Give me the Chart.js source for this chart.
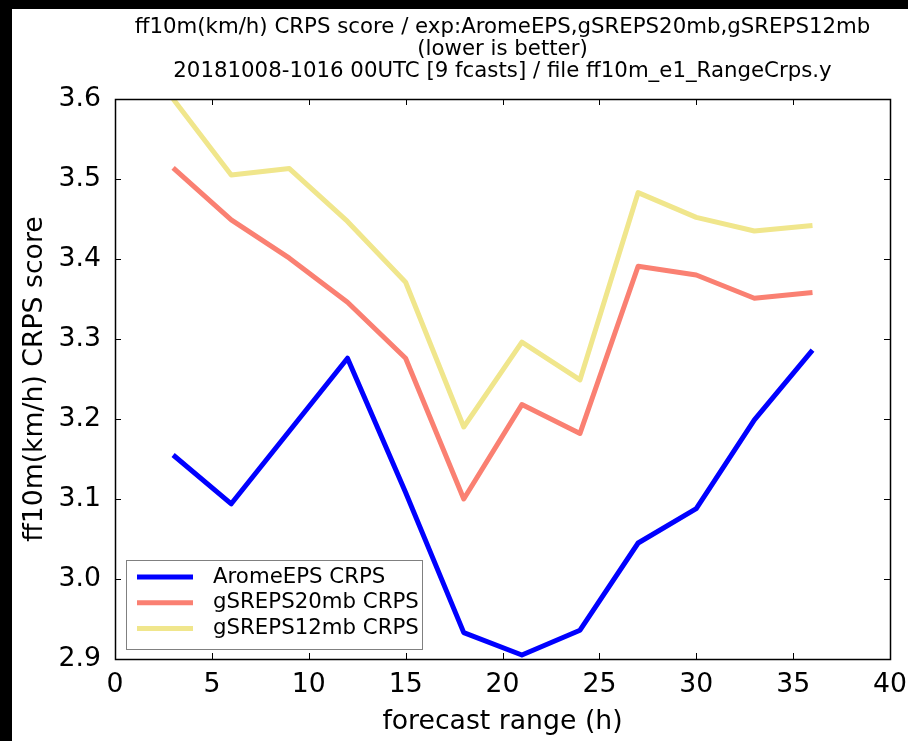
<!DOCTYPE html>
<html>
<head>
<meta charset="utf-8">
<script src="https://cdn.jsdelivr.net/npm/chart.js@4/dist/chart.umd.min.js"></script>
<style>
  html, body { margin: 0; padding: 0; background: #000; width: 908px; height: 741px; overflow: hidden; }
  #wrap { position: absolute; left: 12px; top: 9px; width: 896px; height: 732px; background: #fff; }
  canvas { display: block; }
</style>
</head>
<body>
<div id="wrap"><canvas id="c" width="896" height="732"></canvas></div>
<script>
// Forecast ranges (h) and CRPS scores per experiment
const forecastRange = [3, 6, 9, 12, 15, 18, 21, 24, 27, 30, 33, 36];
const aromeEPS   = [3.155, 3.094, 3.185, 3.276, 3.108, 2.933, 2.905, 2.936, 3.045, 3.088, 3.199, 3.286];
const gSREPS20mb = [3.514, 3.449, 3.401, 3.346, 3.276, 3.100, 3.218, 3.182, 3.391, 3.380, 3.351, 3.358];
const gSREPS12mb = [3.600, 3.505, 3.513, 3.447, 3.371, 3.190, 3.296, 3.249, 3.483, 3.452, 3.435, 3.442];

const seriesNames  = ['AromeEPS CRPS', 'gSREPS20mb CRPS', 'gSREPS12mb CRPS'];
const seriesColors = ['#0000ff', '#fa8072', '#f0e68c'];

const xTickValues = [0, 5, 10, 15, 20, 25, 30, 35, 40];
const yTickValues = [2.9, 3.0, 3.1, 3.2, 3.3, 3.4, 3.5, 3.6];

const titleLines = [
  'ff10m(km/h) CRPS score / exp:AromeEPS,gSREPS20mb,gSREPS12mb',
  '(lower is better)',
  '20181008-1016 00UTC [9 fcasts] / file ff10m_e1_RangeCrps.y'
];
const xAxisTitle = 'forecast range (h)';
const yAxisTitle = 'ff10m(km/h) CRPS score';

const FONT = "'DejaVu Sans', sans-serif";

function toPoints(values) {
  return forecastRange.map((x, i) => ({ x: x, y: values[i] }));
}

const datasets = [aromeEPS, gSREPS20mb, gSREPS12mb].map((vals, i) => ({
  label: seriesNames[i],
  data: toPoints(vals),
  borderColor: seriesColors[i],
  backgroundColor: seriesColors[i],
  borderWidth: 5,
  pointRadius: 0,
  pointHoverRadius: 0,
  tension: 0,
  fill: false,
  clip: 0,
  borderJoinStyle: 'round',
  borderCapStyle: 'butt'
}));

// Multi-line title centred over the plotting area
const titlePlugin = {
  id: 'axesTitle',
  afterDraw(chart) {
    const ctx = chart.ctx;
    const area = chart.chartArea;
    const cx = (area.left + area.right) / 2;
    const ys = [18, 40, 62];
    ctx.save();
    ctx.fillStyle = '#000';
    ctx.font = '21.3px ' + FONT;
    ctx.textAlign = 'center';
    ctx.textBaseline = 'middle';
    titleLines.forEach((t, i) => ctx.fillText(t, cx, ys[i]));
    ctx.restore();
  }
};

// Box frame with inward tick marks on all four sides
const framePlugin = {
  id: 'boxFrame',
  afterDatasetsDraw(chart) {
    const ctx = chart.ctx;
    const { left, right, top, bottom } = chart.chartArea;
    const xs = chart.scales.x, ys = chart.scales.y;
    const len = 6;
    ctx.save();
    ctx.strokeStyle = '#000';
    ctx.lineWidth = 1;
    ctx.beginPath();
    xs.ticks.forEach(t => {
      const px = Math.round(xs.getPixelForValue(t.value)) + 0.5;
      ctx.moveTo(px, bottom); ctx.lineTo(px, bottom - len);
      ctx.moveTo(px, top); ctx.lineTo(px, top + len);
    });
    ys.ticks.forEach(t => {
      const py = Math.round(ys.getPixelForValue(t.value)) + 0.5;
      ctx.moveTo(left, py); ctx.lineTo(left + len, py);
      ctx.moveTo(right, py); ctx.lineTo(right - len, py);
    });
    ctx.stroke();
    ctx.lineWidth = 1.5;
    ctx.strokeRect(Math.round(left) + 0.5, Math.round(top) + 0.5,
                   Math.round(right - left), Math.round(bottom - top));
    ctx.restore();
  }
};

// Legend box in the lower-left corner of the plotting area
const legendBoxPlugin = {
  id: 'legendBox',
  afterDraw(chart) {
    const ctx = chart.ctx;
    const area = chart.chartArea;
    const boxL = area.left + 11, boxW = 296, boxH = 89;
    const boxB = area.bottom - 10, boxT = boxB - boxH;
    ctx.save();
    ctx.fillStyle = '#fff';
    ctx.fillRect(boxL, boxT, boxW, boxH);
    ctx.strokeStyle = '#808080';
    ctx.lineWidth = 1;
    ctx.strokeRect(Math.round(boxL) + 0.5, Math.round(boxT) + 0.5, boxW, boxH);
    ctx.font = '21.3px ' + FONT;
    ctx.textBaseline = 'middle';
    ctx.textAlign = 'left';
    chart.data.datasets.forEach((ds, i) => {
      const y = boxT + 17 + i * 25.8;
      ctx.strokeStyle = ds.borderColor;
      ctx.lineWidth = 5;
      ctx.beginPath();
      ctx.moveTo(boxL + 11, y);
      ctx.lineTo(boxL + 67, y);
      ctx.stroke();
      ctx.fillStyle = '#000';
      ctx.fillText(ds.label, boxL + 87, y);
    });
    ctx.restore();
  }
};

new Chart(document.getElementById('c'), {
  type: 'line',
  data: { datasets: datasets },
  options: {
    responsive: false,
    animation: false,
    devicePixelRatio: 1,
    layout: { padding: { top: 90, right: 18, left: 0, bottom: 0 } },
    plugins: {
      legend: { display: false },
      tooltip: { enabled: false },
      title: { display: false }
    },
    scales: {
      x: {
        type: 'linear',
        min: 0,
        max: 40,
        afterBuildTicks(scale) { scale.ticks = xTickValues.map(v => ({ value: v })); },
        afterFit(scale) {
          scale.height = 82;
          scale.paddingLeft = 0;
          scale.paddingRight = 0;
        },
        grid: { display: false, drawTicks: false },
        border: { display: false },
        ticks: {
          padding: 10,
          color: '#000',
          font: { family: FONT, size: 26.7 },
          maxRotation: 0,
          callback: v => String(v)
        },
        title: {
          display: true,
          text: xAxisTitle,
          color: '#000',
          font: { family: FONT, size: 26.7 },
          padding: { top: 0, bottom: 3 }
        }
      },
      y: {
        type: 'linear',
        min: 2.9,
        max: 3.6,
        afterBuildTicks(scale) { scale.ticks = yTickValues.map(v => ({ value: v })); },
        afterFit(scale) {
          scale.width = 103;
          scale.paddingTop = 0;
          scale.paddingBottom = 0;
        },
        grid: { display: false, drawTicks: false },
        border: { display: false },
        ticks: {
          padding: 14,
          color: '#000',
          font: { family: FONT, size: 26.7 },
          callback: v => Number(v).toFixed(1)
        },
        title: {
          display: true,
          text: yAxisTitle,
          color: '#000',
          font: { family: FONT, size: 26.7 },
          padding: { top: 7, bottom: 0 }
        }
      }
    }
  },
  plugins: [titlePlugin, framePlugin, legendBoxPlugin]
});
</script>
</body>
</html>
